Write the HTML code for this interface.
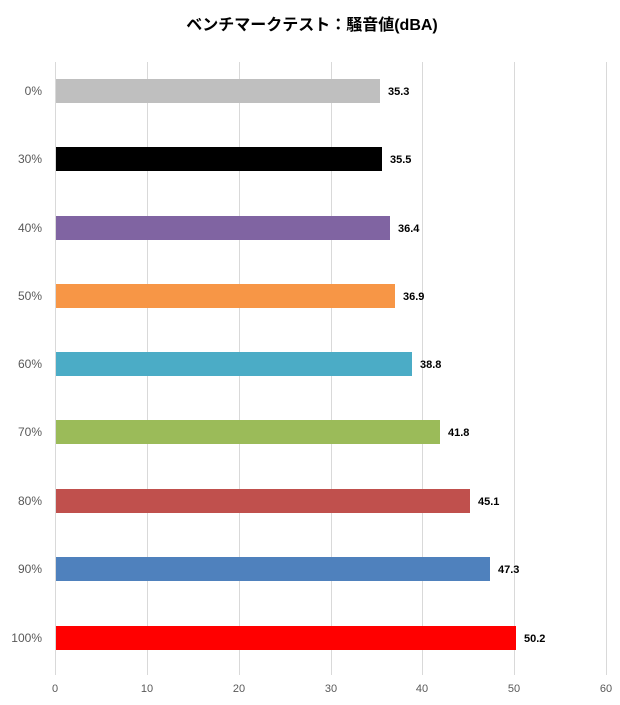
<!DOCTYPE html>
<html><head><meta charset="utf-8"><style>
body{margin:0;background:#fff;width:620px;height:700px;overflow:hidden}
svg text{font-family:"Liberation Sans","Noto Sans CJK JP",sans-serif}
</style></head><body>
<svg width="620" height="700" xmlns="http://www.w3.org/2000/svg">
<text x="312" y="30" text-anchor="middle" font-size="16" font-weight="bold" fill="#000">ベンチマークテスト：騒音値(dBA)</text>
<g stroke="#d9d9d9" stroke-width="1">
<line x1="55.5" y1="62" x2="55.5" y2="675"/>
<line x1="147.5" y1="62" x2="147.5" y2="675"/>
<line x1="239.5" y1="62" x2="239.5" y2="675"/>
<line x1="331.5" y1="62" x2="331.5" y2="675"/>
<line x1="422.5" y1="62" x2="422.5" y2="675"/>
<line x1="514.5" y1="62" x2="514.5" y2="675"/>
<line x1="606.5" y1="62" x2="606.5" y2="675"/>
</g>
<g font-size="11" fill="#595959" text-anchor="middle">
<text x="55" y="692">0</text><text x="147" y="692">10</text><text x="239" y="692">20</text><text x="331" y="692">30</text><text x="422" y="692">40</text><text x="514" y="692">50</text><text x="606" y="692">60</text>
</g>
<g font-size="12" fill="#595959" text-anchor="end">
<text x="42" y="95">0%</text><text x="42" y="163">30%</text><text x="42" y="232">40%</text><text x="42" y="300">50%</text><text x="42" y="368">60%</text><text x="42" y="436">70%</text><text x="42" y="505">80%</text><text x="42" y="573">90%</text><text x="42" y="642">100%</text>
</g>
<rect x="56" y="79" width="324" height="24" fill="#bfbfbf"/>
<rect x="56" y="147" width="326" height="24" fill="#000"/>
<rect x="56" y="216" width="334" height="24" fill="#8064a2"/>
<rect x="56" y="284" width="339" height="24" fill="#f79646"/>
<rect x="56" y="352" width="356" height="24" fill="#4bacc6"/>
<rect x="56" y="420" width="384" height="24" fill="#9bbb59"/>
<rect x="56" y="489" width="414" height="24" fill="#c0504d"/>
<rect x="56" y="557" width="434" height="24" fill="#4f81bd"/>
<rect x="56" y="626" width="460" height="24" fill="#ff0000"/>
<g font-size="11" font-weight="bold" fill="#000">
<text x="388" y="95">35.3</text><text x="390" y="163">35.5</text><text x="398" y="232">36.4</text><text x="403" y="300">36.9</text><text x="420" y="368">38.8</text><text x="448" y="436">41.8</text><text x="478" y="505">45.1</text><text x="498" y="573">47.3</text><text x="524" y="642">50.2</text>
</g>
</svg>
</body></html>
